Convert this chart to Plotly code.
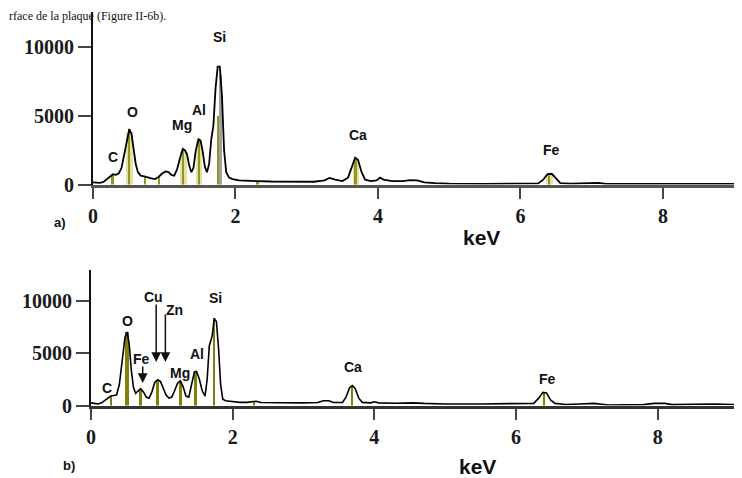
import plotly.graph_objects as go

# ---------------- data: spectrum a) ----------------
kev_a = [0.00, 0.05, 0.10, 0.15, 0.20, 0.25, 0.28, 0.32, 0.36, 0.40, 0.44, 0.48, 0.51, 0.54, 0.57,
         0.60, 0.63, 0.67, 0.72, 0.77, 0.82, 0.87, 0.92, 0.97, 1.02, 1.06, 1.10, 1.14, 1.18, 1.22,
         1.26, 1.29, 1.32, 1.35, 1.38, 1.41, 1.44, 1.48, 1.51, 1.54, 1.57, 1.60, 1.63, 1.66, 1.69,
         1.72, 1.75, 1.78, 1.81, 1.84, 1.87, 1.91, 1.96, 2.05, 2.15, 2.30, 2.50, 2.70, 2.90, 3.10,
         3.25, 3.32, 3.40, 3.50, 3.58, 3.63, 3.68, 3.72, 3.77, 3.82, 3.90, 3.98, 4.03, 4.08, 4.20,
         4.35, 4.45, 4.55, 4.65, 4.80, 5.00, 5.50, 6.00, 6.25, 6.32, 6.38, 6.44, 6.50, 6.56, 6.70,
         7.10, 7.20, 8.00, 9.11]
counts_a = [150, 150, 120, 200, 400, 600, 750, 700, 800, 1200, 2200, 3400, 4050, 3700, 2600,
            1500, 900, 650, 600, 500, 450, 400, 550, 800, 950, 900, 700, 650, 1100, 1900,
            2600, 2500, 2200, 1400, 900, 1200, 2400, 3300, 3200, 2400, 1300, 900, 1500, 3300, 4300,
            7000, 8600, 8600, 6500, 2500, 900, 500, 400, 300, 300, 250, 220, 200, 200, 200,
            300, 480, 350, 250, 500, 1300, 1950, 1800, 900, 350, 250, 300, 500, 350, 250,
            250, 320, 300, 150, 100, 60, 40, 40, 80, 350, 750, 780, 400, 100, 60,
            120, 50, 50, 50]

# ---------------- data: spectrum b) ----------------
kev_b = [0.00, 0.05, 0.10, 0.15, 0.20, 0.25, 0.28, 0.32, 0.36, 0.40, 0.44, 0.48, 0.51, 0.54, 0.57,
         0.60, 0.63, 0.67, 0.70, 0.74, 0.78, 0.82, 0.86, 0.90, 0.94, 0.98, 1.02, 1.06, 1.10, 1.14,
         1.18, 1.22, 1.26, 1.30, 1.34, 1.38, 1.42, 1.46, 1.49, 1.53, 1.57, 1.61, 1.64, 1.67, 1.71,
         1.74, 1.77, 1.80, 1.83, 1.86, 1.90, 2.00, 2.10, 2.20, 2.27, 2.33, 2.40, 2.60, 2.80, 3.00,
         3.20, 3.28, 3.36, 3.42, 3.55, 3.60, 3.65, 3.69, 3.73, 3.78, 3.83, 3.95, 4.00, 4.06, 4.30,
         4.45, 4.55, 4.70, 5.00, 5.50, 6.00, 6.25, 6.32, 6.38, 6.43, 6.49, 6.55, 6.70, 6.90, 7.10,
         7.30, 7.80, 7.95, 8.10, 8.20, 8.60, 8.80, 9.19]
counts_b = [250, 200, 150, 250, 500, 800, 900, 950, 1000, 2000, 4200, 6500, 7000, 5800, 3300,
            1700, 1150, 1400, 1600, 1300, 800, 700, 1300, 2200, 2450, 2300, 1700, 1000, 700, 800,
            1400, 2100, 2350, 1800, 900, 800, 2000, 3200, 3250, 2500, 1400, 900, 2500, 5700, 6600,
            8300, 8000, 5500, 2000, 600, 450, 350, 300, 300, 380, 400, 280, 250, 250, 250,
            280, 450, 450, 280, 300, 800, 1700, 1900, 1600, 700, 300, 250, 350, 250, 220,
            280, 250, 200, 150, 150, 150, 200, 700, 1250, 1200, 500, 200, 100, 150, 200,
            50, 80, 200, 200, 80, 150, 150, 80]

# element marker lines (keV, height)
mark_a_kev = [0.28, 0.51, 0.73, 0.92, 1.27, 1.49, 1.76, 2.31, 3.69, 6.40]
mark_a_cnt = [750, 4050, 600, 550, 2600, 3300, 5000, 250, 1950, 780]
fill_a_kev = [0.51, 1.27, 1.49, 3.69, 6.41]
fill_a_cnt = [3800, 2400, 3150, 1800, 700]

mark_b_kev = [0.28, 0.51, 0.70, 0.94, 1.26, 1.48, 1.74, 2.31, 3.69, 6.40]
mark_b_cnt = [900, 7000, 1600, 2450, 2350, 3250, 8300, 400, 1900, 1250]

# labels
lab_a_text = ["C", "O", "Mg", "Al", "Si", "Ca", "Fe"]
lab_a_kev = [0.28, 0.55, 1.25, 1.49, 1.78, 3.72, 6.44]
lab_a_cnt = [2000, 5290, 4340, 5440, 10770, 3610, 2520]

lab_b_text = ["C", "O", "Cu", "Zn", "Fe", "Mg", "Al", "Si", "Ca", "Fe"]
lab_b_kev = [0.23, 0.52, 0.88, 1.18, 0.71, 1.26, 1.50, 1.76, 3.70, 6.44]
lab_b_cnt = [1670, 8050, 10330, 9100, 4430, 3100, 4900, 10240, 3670, 2520]

arrow_b_kev = [0.92, 1.05, 0.73]
arrow_b_tip = [4140, 4140, 2140]
arrow_b_tail = [9760, 8810, 3860]

xticks = [0, 2, 4, 6, 8]
xtick_labels = ["0", "2", "4", "6", "8"]
yticks = [0, 5000, 10000]
ytick_labels = ["0", "5000", "10000"]

OLIVE_A = "#94941e"
OLIVE_B = "#80800c"
PALE = "#e2e2a8"

# the page body adds an 8 px offset; the figure fills the rest of the window
OFF = 8
W, H = 742 - OFF, 478 - OFF


def px(X):
    return (X - OFF) / W


def py(Y):
    return 1 - (Y - OFF) / H


fig = go.Figure()

# panel a
fig.add_trace(go.Bar(x=fill_a_kev, y=fill_a_cnt, width=0.09, marker_color=PALE,
                     marker_line_width=0, xaxis="x", yaxis="y", showlegend=False))
fig.add_trace(go.Bar(x=[1.785], y=[8000], width=0.04, marker_color="#a0a0a0",
                     marker_line_width=0, xaxis="x", yaxis="y", showlegend=False))
fig.add_trace(go.Bar(x=mark_a_kev, y=mark_a_cnt, width=0.028, marker_color=OLIVE_A,
                     marker_line_width=0, xaxis="x", yaxis="y", showlegend=False))
fig.add_trace(go.Scatter(x=kev_a, y=counts_a, mode="lines", line=dict(color="black", width=1.8),
                         xaxis="x", yaxis="y", showlegend=False))

# panel b
fig.add_trace(go.Bar(x=mark_b_kev, y=mark_b_cnt, width=[0.03, 0.05, 0.035, 0.05, 0.04, 0.04, 0.03, 0.02, 0.03, 0.025],
                     marker_color=OLIVE_B, marker_line_width=0, xaxis="x2", yaxis="y2", showlegend=False))
fig.add_trace(go.Scatter(x=kev_b, y=counts_b, mode="lines", line=dict(color="black", width=1.6),
                         xaxis="x2", yaxis="y2", showlegend=False))

tickfont = dict(family="Liberation Serif", size=20, color="#1a1a1a", weight="bold")
axis_common = dict(showgrid=False, zeroline=False, ticks="outside", tickwidth=2, automargin=False,
                   tickcolor="#444", tickfont=tickfont, fixedrange=True)

fig.update_layout(
    template="none",
    width=W, height=H, autosize=False,
    margin=dict(l=0, r=0, t=0, b=0, pad=0, autoexpand=False),
    paper_bgcolor="white", plot_bgcolor="white",
    barmode="overlay", bargap=0,
    xaxis=dict(domain=[px(93), 1], range=[0, 9.11], anchor="y", tickvals=xticks, ticktext=xtick_labels,
               showline=True, linecolor="#555", linewidth=3, ticklen=11, **axis_common),
    yaxis=dict(domain=[py(184.5), py(12)], range=[0, 12590], anchor="x",
               tickvals=yticks, ticktext=ytick_labels, showline=True, linecolor="#111", linewidth=2,
               ticklen=13, **axis_common),
    xaxis2=dict(domain=[px(91), 1], range=[0, 9.19], anchor="y2", tickvals=xticks, ticktext=xtick_labels,
                showline=True, linecolor="#333", linewidth=3, ticklen=11, **axis_common),
    yaxis2=dict(domain=[py(405.5), py(270)], range=[0, 12905], anchor="x2",
                tickvals=yticks, ticktext=ytick_labels, showline=True, linecolor="#111", linewidth=2,
                ticklen=13, **axis_common),
)

lab_font = dict(family="Liberation Sans", size=14, color="#111")
ann = []
for t, x, y in zip(lab_a_text, lab_a_kev, lab_a_cnt):
    ann.append(dict(text="<b>%s</b>" % t, x=x, y=y, xref="x", yref="y", showarrow=False, font=lab_font))
for t, x, y in zip(lab_b_text, lab_b_kev, lab_b_cnt):
    ann.append(dict(text="<b>%s</b>" % t, x=x, y=y, xref="x2", yref="y2", showarrow=False, font=lab_font))
for x, tip, tail in zip(arrow_b_kev, arrow_b_tip, arrow_b_tail):
    ann.append(dict(text="", x=x, y=tip, ax=x, ay=tail, xref="x2", yref="y2", axref="x2", ayref="y2",
                    showarrow=True, arrowhead=2, arrowsize=1.3, arrowwidth=1.5, arrowcolor="#111"))

ann.append(dict(text="<b>keV</b>", x=px(481), y=py(237), xref="paper", yref="paper",
                xanchor="center", yanchor="middle",
                showarrow=False, font=dict(family="Liberation Sans", size=21, color="#111")))
ann.append(dict(text="<b>keV</b>", x=px(477), y=py(466), xref="paper", yref="paper",
                xanchor="center", yanchor="middle",
                showarrow=False, font=dict(family="Liberation Sans", size=21, color="#111")))
ann.append(dict(text="<b>a)</b>", x=px(60), y=py(223), xref="paper", yref="paper",
                xanchor="center", yanchor="middle",
                showarrow=False, font=dict(family="Liberation Sans", size=13, color="#111")))
ann.append(dict(text="<b>b)</b>", x=px(69), y=py(465), xref="paper", yref="paper",
                xanchor="center", yanchor="middle",
                showarrow=False, font=dict(family="Liberation Sans", size=13, color="#111")))
ann.append(dict(text="rface de la plaque (Figure II-6b).", x=0, y=1, xref="paper", yref="paper",
                xanchor="left", yanchor="top", showarrow=False, borderpad=0,
                font=dict(family="Liberation Serif", size=12, color="#111")))
fig.update_layout(annotations=ann)

fig.write_html("out.html")
